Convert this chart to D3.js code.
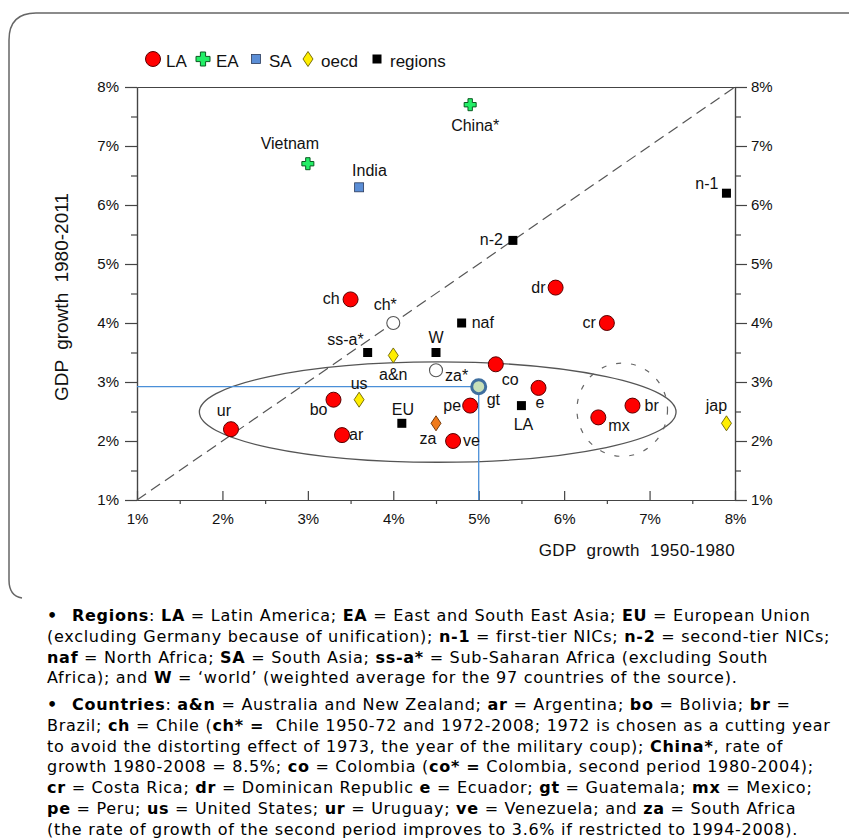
<!DOCTYPE html>
<html>
<head>
<meta charset="utf-8">
<script src="https://cdn.jsdelivr.net/npm/d3@7"></script>
<style>
  body { margin: 0; background: #fff; }
  svg { display: block; }
  .chart text { font-family: "Liberation Sans", Arial, sans-serif; fill: #111; }
  .notes text { font-family: "DejaVu Sans", Verdana, sans-serif; font-size: 16px; letter-spacing: 0.72px; fill: #000; }
</style>
</head>
<body>
<svg id="fig" width="849" height="840"></svg>
<script>
// ---- data: GDP growth 1950-1980 (x) vs 1980-2011 (y), in percent ----
const names = ['Vietnam', 'India', 'China*', 'n-1', 'n-2', 'dr', 'ch', 'ch*', 'naf', 'cr',
  'ss-a*', 'a&n', 'W', 'za*', 'co', 'gt', 'e', 'us', 'bo', 'pe',
  'LA', 'br', 'mx', 'ur', 'EU', 'za', 'jap', 'ar', 've'];
const growth5080 = [3.0, 3.6, 4.9, 7.9, 5.4, 5.9, 3.5, 4.0, 4.8, 6.5,
  3.7, 4.0, 4.5, 4.5, 5.2, 5.0, 5.7, 3.6, 3.3, 4.9,
  5.5, 6.8, 6.4, 2.1, 4.1, 4.5, 7.9, 3.4, 4.7];
const growth8011 = [6.7, 6.3, 7.7, 6.2, 5.4, 4.6, 4.4, 4.0, 4.0, 4.0,
  3.5, 3.45, 3.5, 3.2, 3.3, 2.92, 2.9, 2.7, 2.7, 2.6,
  2.6, 2.6, 2.4, 2.2, 2.3, 2.3, 2.3, 2.1, 2.0];
const groups = ['EA', 'SA', 'EA', 'regions', 'regions', 'LA', 'LA', 'alt', 'regions', 'LA',
  'regions', 'oecd', 'regions', 'alt', 'LA', 'hl', 'LA', 'oecd', 'LA', 'LA',
  'regions', 'LA', 'LA', 'LA', 'regions', 'za', 'oecd', 'LA', 'LA'];

const legendKeys = ['LA', 'EA', 'SA', 'oecd', 'regions'];
const tickValues = [1, 2, 3, 4, 5, 6, 7, 8];
const minorValues = [1.5, 2.5, 3.5, 4.5, 5.5, 6.5, 7.5];

// highlighted point (gt) guide lines, the big ellipse and the dashed circle (data units)
const guidePoint = { x: 5.0, y: 2.92 };
const bigEllipse = { cx: 4.52, cy: 2.49, rx: 2.79, ry: 0.85 };
const smallCircle = { cx: 6.68, cy: 2.53, rx: 0.53, ry: 0.79 };

// label placement: [anchor, dx, dy]
const labelPos = {
  'Vietnam': ['middle', -18, -15], 'India': ['start', -7, -11], 'China*': ['middle', 5, 26],
  'n-1': ['end', -8, -4], 'n-2': ['end', -10, 5], 'dr': ['end', -10, 5], 'ch': ['end', -11, 5],
  'ch*': ['middle', -8, -13], 'naf': ['start', 10, 5], 'cr': ['end', -11, 5],
  'ss-a*': ['end', -4, -8], 'a&n': ['middle', 0, 25], 'W': ['middle', 0, -10],
  'za*': ['start', 9, 11], 'co': ['start', 6, 21], 'gt': ['start', 8, 18], 'e': ['start', -3, 20],
  'us': ['middle', 0, -11], 'bo': ['end', -6, 15], 'pe': ['end', -9, 5], 'LA': ['middle', 2, 24],
  'br': ['start', 12, 5], 'mx': ['start', 10, 14], 'ur': ['middle', -7, -13], 'EU': ['middle', 1, -8],
  'za': ['middle', -8, 21], 'jap': ['middle', -10, -12], 'ar': ['start', 7, 5], 've': ['start', 10, 5]
};

// notes: {...} marks bold text
const notes1 = [
  '{Regions}: {LA} = Latin America; {EA} = East and South East Asia; {EU} = European Union',
  '(excluding Germany because of unification); {n-1} = first-tier NICs; {n-2} = second-tier NICs;',
  '{naf} = North Africa; {SA} = South Asia; {ss-a*} = Sub-Saharan Africa (excluding South',
  'Africa); and {W} = \u2018world\u2019 (weighted average for the 97 countries of the source).'
];
const notes2 = [
  '{Countries}: {a&n} = Australia and New Zealand; {ar} = Argentina; {bo} = Bolivia; {br} =',
  'Brazil; {ch} = Chile ({ch* =}  Chile 1950-72 and 1972-2008; 1972 is chosen as a cutting year',
  'to avoid the distorting effect of 1973, the year of the military coup); {China*}, rate of',
  'growth 1980-2008 = 8.5%; {co} = Colombia ({co* =} Colombia, second period 1980-2004);',
  '{cr} = Costa Rica; {dr} = Dominican Republic {e} = Ecuador; {gt} = Guatemala; {mx} = Mexico;',
  '{pe} = Peru; {us} = United States; {ur} = Uruguay; {ve} = Venezuela; and {za} = South Africa',
  '(the rate of growth of the second period improves to 3.6% if restricted to 1994-2008).'
];

// ---- layout ----
const svg = d3.select('#fig');
const x = d3.scaleLinear().domain([1, 8]).range([137, 735]);
const y = d3.scaleLinear().domain([1, 8]).range([500, 87]);
const pct = d => d + '%';

// rounded frame (open at bottom / right)
svg.append('path')
  .attr('d', 'M22,598 Q9,596 9,580 L9,40 Q9,13 36,13 L849,13')
  .attr('fill', 'none').attr('stroke', '#666').attr('stroke-width', 1.5);

const chart = svg.append('g').attr('class', 'chart');

// ---- axes ----
function styleAxis(g) {
  g.selectAll('path, line').attr('stroke', '#444').attr('stroke-width', 1.2);
  g.selectAll('text').attr('font-size', 15).attr('fill', '#111')
    .attr('font-family', '"Liberation Sans", Arial, sans-serif');
}

chart.append('g').attr('transform', 'translate(137,0)')
  .call(d3.axisLeft(y).tickValues(tickValues).tickFormat(pct).tickSizeInner(12).tickSizeOuter(0).tickPadding(6))
  .call(styleAxis);
chart.append('g').attr('transform', 'translate(137,0)')
  .call(d3.axisLeft(y).tickValues(minorValues).tickFormat('').tickSizeInner(6).tickSizeOuter(0))
  .call(styleAxis);
chart.append('g').attr('transform', 'translate(735,0)')
  .call(d3.axisRight(y).tickValues(tickValues).tickFormat(pct).tickSizeInner(12).tickSizeOuter(0).tickPadding(4))
  .call(styleAxis);
chart.append('g').attr('transform', 'translate(735,0)')
  .call(d3.axisRight(y).tickValues(minorValues).tickFormat('').tickSizeInner(6).tickSizeOuter(0))
  .call(styleAxis);
chart.append('g').attr('transform', 'translate(0,500)')
  .call(d3.axisBottom(x).tickValues(tickValues).tickFormat(pct).tickSizeInner(-9).tickSizeOuter(0).tickPadding(13))
  .call(styleAxis);
chart.append('g').attr('transform', 'translate(0,500)')
  .call(d3.axisBottom(x).tickValues(minorValues).tickFormat('').tickSizeInner(4).tickSizeOuter(0))
  .call(styleAxis);
chart.append('g').attr('transform', 'translate(0,87)')
  .call(d3.axisTop(x).tickValues([]).tickSizeOuter(0))
  .call(styleAxis);

// axis titles
chart.append('text')
  .attr('x', 735).attr('y', 556).attr('text-anchor', 'end')
  .attr('font-size', 17).attr('letter-spacing', 0.4).attr('word-spacing', 5)
  .text('GDP growth 1950-1980');
chart.append('text')
  .attr('transform', 'translate(68,297) rotate(-90)').attr('text-anchor', 'middle')
  .attr('font-size', 19).attr('word-spacing', 5)
  .text('GDP growth 1980-2011');

// ---- reference shapes ----
chart.append('line')
  .attr('x1', x(1)).attr('y1', y(1)).attr('x2', x(8)).attr('y2', y(8))
  .attr('stroke', '#555').attr('stroke-width', 1.2).attr('stroke-dasharray', '11,6');

chart.append('ellipse')
  .attr('cx', x(bigEllipse.cx)).attr('cy', y(bigEllipse.cy))
  .attr('rx', x(bigEllipse.cx + bigEllipse.rx) - x(bigEllipse.cx))
  .attr('ry', y(bigEllipse.cy) - y(bigEllipse.cy + bigEllipse.ry))
  .attr('fill', 'none').attr('stroke', '#555').attr('stroke-width', 1.3);

chart.append('ellipse')
  .attr('cx', x(smallCircle.cx)).attr('cy', y(smallCircle.cy))
  .attr('rx', x(smallCircle.cx + smallCircle.rx) - x(smallCircle.cx))
  .attr('ry', y(smallCircle.cy) - y(smallCircle.cy + smallCircle.ry))
  .attr('fill', 'none').attr('stroke', '#666').attr('stroke-width', 1.2)
  .attr('stroke-dasharray', '5,10');

// guide lines to gt
chart.append('path')
  .attr('d', `M${x(1)},${y(guidePoint.y)} H${x(guidePoint.x)} V${y(1)}`)
  .attr('fill', 'none').attr('stroke', '#4a8fd8').attr('stroke-width', 1.3);

// ---- markers ----
function drawMarker(g, type, cx, cy, big) {
  if (type === 'LA') {
    g.append('circle').attr('cx', cx).attr('cy', cy).attr('r', 7.5)
      .attr('fill', '#ff0000').attr('stroke', '#5a0000').attr('stroke-width', 1);
  } else if (type === 'EA') {
    const a = big ? 7 : 6, w = big ? 2.6 : 2.2;
    g.append('path')
      .attr('d', `M${cx - w},${cy - a}H${cx + w}V${cy - w}H${cx + a}V${cy + w}H${cx + w}V${cy + a}H${cx - w}V${cy + w}H${cx - a}V${cy - w}H${cx - w}Z`)
      .attr('fill', '#22ee66').attr('stroke', '#0a5a20').attr('stroke-width', 1);
  } else if (type === 'SA') {
    g.append('rect').attr('x', cx - 4.5).attr('y', cy - 4.5).attr('width', 9).attr('height', 9)
      .attr('fill', '#5b8ed6').attr('stroke', '#2a3a5a').attr('stroke-width', 0.8);
  } else if (type === 'oecd' || type === 'za') {
    g.append('path')
      .attr('d', `M${cx},${cy - 7.5}L${cx + 5},${cy}L${cx},${cy + 7.5}L${cx - 5},${cy}Z`)
      .attr('fill', type === 'za' ? '#f07a1a' : '#ffee00')
      .attr('stroke', type === 'za' ? '#6a3000' : '#6a6000').attr('stroke-width', 0.9);
  } else if (type === 'regions') {
    g.append('rect').attr('x', cx - 4.5).attr('y', cy - 4.5).attr('width', 9).attr('height', 9)
      .attr('fill', '#000');
  } else if (type === 'alt') {
    g.append('circle').attr('cx', cx).attr('cy', cy).attr('r', 6.5)
      .attr('fill', '#fff').attr('stroke', '#555').attr('stroke-width', 1.1);
  } else if (type === 'hl') {
    g.append('circle').attr('cx', cx).attr('cy', cy).attr('r', 7)
      .attr('fill', '#c8e0b8').attr('stroke', '#3f6f9f').attr('stroke-width', 3);
  }
}

const pts = chart.append('g');
names.forEach((n, i) => {
  drawMarker(pts, groups[i], x(growth5080[i]), y(growth8011[i]));
});

const labels = chart.append('g');
names.forEach((n, i) => {
  const p = labelPos[n];
  labels.append('text')
    .attr('x', x(growth5080[i]) + p[1]).attr('y', y(growth8011[i]) + p[2])
    .attr('text-anchor', p[0]).attr('font-size', 16)
    .text(n);
});

// ---- legend ----
const legendX = [153, 203, 256, 308, 377];
const legend = chart.append('g');
legendKeys.forEach((k, i) => {
  drawMarker(legend, k, legendX[i], 59, true);
  legend.append('text').attr('x', legendX[i] + 13).attr('y', 67)
    .attr('font-size', 17).text(k);
});

// ---- notes below the chart ----
const notes = svg.append('g').attr('class', 'notes');
function writeLines(lines, y0) {
  lines.forEach((line, i) => {
    const t = notes.append('text').attr('y', y0 + i * 20.8);
    let startX = 47;
    if (i === 0) {
      notes.append('text').attr('x', 47).attr('y', y0).attr('font-weight', 'bold').text('\u2022');
      startX = 72;
    }
    t.attr('x', startX).attr('xml:space', 'preserve');
    line.split(/([{}])/).reduce((bold, part) => {
      if (part === '{') return true;
      if (part === '}') return false;
      if (part) t.append('tspan').attr('font-weight', bold ? 'bold' : 'normal').text(part);
      return bold;
    }, false);
  });
}
writeLines(notes1, 621);
writeLines(notes2, 710);
</script>
</body>
</html>
